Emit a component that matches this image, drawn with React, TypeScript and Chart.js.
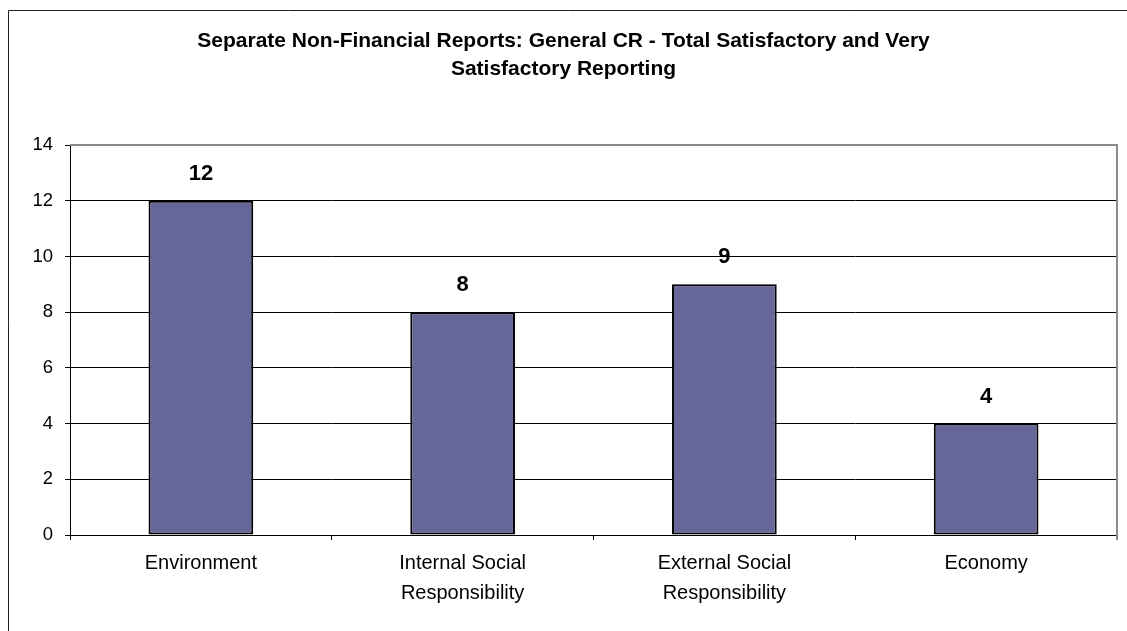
import React, { useEffect, useRef } from "react";
import { Chart, registerables } from "chart.js";

Chart.register(...registerables);

const titleLines = [
  "Separate Non-Financial Reports: General CR - Total Satisfactory and Very",
  "Satisfactory Reporting",
];
const categories: (string | string[])[] = [
  "Environment",
  ["Internal Social", "Responsibility"],
  ["External Social", "Responsibility"],
  "Economy",
];
const values = [12, 8, 9, 4];
const yMin = 0;
const yMax = 14;
const yStep = 2;

const FONT = "'Liberation Sans', Arial, sans-serif";

const framePlugin = {
  id: "frame",
  beforeDraw(chart: any) {
    const ctx = chart.ctx;
    ctx.save();
    ctx.fillStyle = "#ffffff";
    ctx.fillRect(0, 0, chart.width, chart.height);
    ctx.strokeStyle = "#222222";
    ctx.lineWidth = 1;
    ctx.beginPath();
    ctx.moveTo(8.5, chart.height + 5);
    ctx.lineTo(8.5, 10.5);
    ctx.lineTo(chart.width + 5, 10.5);
    ctx.stroke();
    ctx.restore();
  },
  afterDatasetsDraw(chart: any) {
    const ctx = chart.ctx;
    const a = chart.chartArea;
    ctx.save();
    ctx.strokeStyle = "#8a8a8a";
    ctx.lineWidth = 2;
    ctx.beginPath();
    ctx.moveTo(a.left, a.top);
    ctx.lineTo(a.right, a.top);
    ctx.lineTo(a.right, a.bottom + 5);
    ctx.stroke();
    // data labels
    ctx.fillStyle = "#000000";
    ctx.font = `bold 22px ${FONT}`;
    ctx.textAlign = "center";
    ctx.textBaseline = "middle";
    const meta = chart.getDatasetMeta(0);
    meta.data.forEach((el: any, i: number) => {
      ctx.fillText(String(chart.data.datasets[0].data[i]), el.x, el.y - 27);
    });
    ctx.restore();
  },
};

export default function App() {
  const ref = useRef<HTMLCanvasElement | null>(null);
  useEffect(() => {
    if (!ref.current) return;
    const chart = new Chart(ref.current, {
      type: "bar",
      data: {
        labels: categories,
        datasets: [
          {
            data: values,
            backgroundColor: "#666699",
            borderColor: "#000000",
            borderWidth: 2,
            borderSkipped: false,
            barPercentage: 0.4,
            categoryPercentage: 1,
          },
        ],
      },
      options: {
        responsive: false,
        maintainAspectRatio: false,
        animation: false,
        layout: { padding: { left: 0, right: 0, top: 0, bottom: 0 } },
        plugins: {
          legend: { display: false },
          tooltip: { enabled: false },
          title: {
            display: true,
            text: titleLines,
            color: "#000000",
            font: { family: FONT, size: 21, weight: "bold", lineHeight: "28px" },
            padding: { top: 27, bottom: 62 },
          },
        },
        scales: {
          x: {
            offset: true,
            grid: {
              display: true,
              offset: true,
              drawOnChartArea: false,
              drawTicks: true,
              tickLength: 5,
              tickColor: "#000000",
              tickWidth: 1,
            },
            border: { display: true, color: "#000000", width: 1 },
            ticks: {
              color: "#000000",
              padding: 8,
              maxRotation: 0,
              autoSkip: false,
              font: { family: FONT, size: 20, lineHeight: "30px" },
            },
            afterFit(scale: any) {
              scale.height = 96;
            },
          },
          y: {
            min: yMin,
            max: yMax,
            grid: {
              color: (c: any) => (c.tick && c.tick.value === yMax ? "rgba(0,0,0,0)" : "#000000"),
              lineWidth: 1,
              drawTicks: true,
              tickLength: 5,
              tickColor: "#000000",
            },
            border: { display: true, color: "#000000", width: 1 },
            ticks: {
              stepSize: yStep,
              color: "#000000",
              padding: 12,
              font: { family: FONT, size: 18.5 },
            },
            afterFit(scale: any) {
              scale.width = 70;
            },
          },
          yRight: {
            position: "right",
            min: yMin,
            max: yMax,
            grid: { display: false, drawTicks: false },
            border: { display: false },
            ticks: { display: false },
            afterFit(scale: any) {
              scale.width = 10;
            },
          },
        },
      },
      plugins: [framePlugin],
    });
    return () => chart.destroy();
  }, []);
  return (
    <div style={{ position: "fixed", left: 0, top: 0, width: 1127, height: 631, background: "#fff" }}>
      <canvas ref={ref} width={1127} height={631} />
    </div>
  );
}
